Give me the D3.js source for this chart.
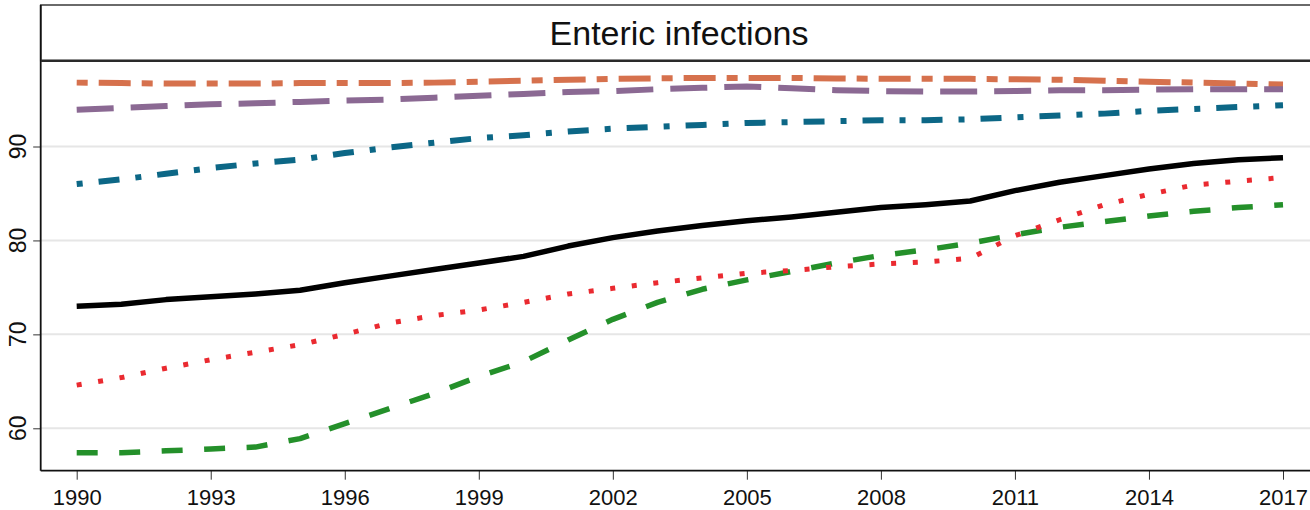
<!DOCTYPE html>
<html>
<head>
<meta charset="utf-8">
<script src="https://cdn.jsdelivr.net/npm/d3@7"></script>
<style>
  html, body { margin: 0; padding: 0; background: #fff; }
  svg { display: block; font-family: "Liberation Sans", Arial, sans-serif; }
</style>
</head>
<body>
<svg id="chart" width="1310" height="510"></svg>
<script>
// ---- data ----
const title = "Enteric infections";
const years = d3.range(1990, 2018);
const xTickLabels = [1990, 1993, 1996, 1999, 2002, 2005, 2008, 2011, 2014, 2017];
const yTickLabels = [60, 70, 80, 90];

const orangeSeries = [96.8, 96.75, 96.7, 96.7, 96.7, 96.75, 96.75, 96.75, 96.8, 96.9, 97.0, 97.1, 97.2, 97.25, 97.3, 97.3, 97.3, 97.25, 97.2, 97.2, 97.2, 97.15, 97.1, 97.0, 96.9, 96.8, 96.7, 96.6];
const purpleSeries = [93.9, 94.1, 94.3, 94.5, 94.6, 94.75, 94.9, 95.0, 95.2, 95.4, 95.6, 95.8, 95.9, 96.1, 96.25, 96.4, 96.2, 96.0, 95.9, 95.85, 95.85, 95.9, 96.0, 96.0, 96.05, 96.1, 96.1, 96.1];
const tealSeries = [86.0, 86.5, 87.1, 87.7, 88.2, 88.6, 89.3, 89.9, 90.4, 90.9, 91.2, 91.6, 91.9, 92.1, 92.3, 92.5, 92.6, 92.7, 92.8, 92.8, 92.9, 93.1, 93.3, 93.5, 93.8, 94.0, 94.2, 94.4];
const blackSeries = [73.0, 73.2, 73.7, 74.0, 74.3, 74.7, 75.5, 76.2, 76.9, 77.6, 78.3, 79.4, 80.3, 81.0, 81.6, 82.1, 82.5, 83.0, 83.5, 83.8, 84.2, 85.3, 86.2, 86.9, 87.6, 88.2, 88.6, 88.8];
const redSeries = [64.6, 65.4, 66.4, 67.3, 68.1, 68.9, 70.0, 71.2, 72.0, 72.6, 73.4, 74.3, 74.9, 75.5, 76.0, 76.5, 76.8, 77.2, 77.5, 77.7, 78.1, 80.5, 82.2, 83.8, 84.9, 85.9, 86.3, 86.7];
const greenSeries = [57.4, 57.4, 57.6, 57.8, 58.0, 58.9, 60.5, 62.1, 63.7, 65.5, 67.1, 69.4, 71.6, 73.4, 74.8, 75.8, 76.7, 77.6, 78.4, 79.0, 79.7, 80.6, 81.4, 82.0, 82.6, 83.1, 83.5, 83.8];

(function () {
const seriesList = [
  { values: orangeSeries, color: "#d6714d", dash: "11,11,32,11", width: 6 },
  { values: purpleSeries, color: "#8b6993", dash: "37,17", width: 6 },
  { values: tealSeries, color: "#0c6786", dash: "6,16,21,16", width: 6 },
  { values: greenSeries, color: "#24902a", dash: "21,21.5", width: 5.5 },
  { values: redSeries, color: "#ea2a30", dash: "5,16.7", width: 5 },
  { values: blackSeries, color: "#000000", dash: null, width: 5.5 }
];

// ---- layout ----
const svg = d3.select("#chart");
const mLeft = 40.7, mTop = 60.7, mBottom = 470.7, mRight = 1312;

const x = d3.scaleLinear().domain([1990, 2017]).range([76.7, 1283]);
const y = d3.scaleLinear().domain([60, 90]).range([428.3, 146.5]);

// title box
svg.append("rect")
  .attr("x", mLeft).attr("y", 5)
  .attr("width", mRight - mLeft).attr("height", mTop - 5)
  .attr("fill", "#fff").attr("stroke", "#3a3a3a").attr("stroke-width", 1.5);
svg.append("text")
  .attr("x", 679).attr("y", 45)
  .attr("text-anchor", "middle")
  .attr("font-size", 34)
  .attr("fill", "#111")
  .text(title);

// grid lines
svg.append("g").selectAll("line").data(yTickLabels).join("line")
  .attr("x1", mLeft).attr("x2", mRight)
  .attr("y1", d => y(d)).attr("y2", d => y(d))
  .attr("stroke", "#e6e6e6").attr("stroke-width", 2);

// y axis
const yAxis = d3.axisLeft(y).tickValues(yTickLabels).tickSize(7.5).tickPadding(0).tickFormat(d3.format("d"));
const gy = svg.append("g").attr("transform", `translate(${mLeft},0)`).call(yAxis);
gy.select(".domain").remove();
gy.selectAll(".tick line").attr("stroke", "#333").attr("stroke-width", 1);
gy.selectAll(".tick text").remove();
svg.append("g").selectAll("text").data(yTickLabels).join("text")
  .attr("transform", d => `translate(25.5,${y(d)}) rotate(-90)`)
  .attr("text-anchor", "middle")
  .attr("font-size", 23)
  .attr("fill", "#111")
  .text(d => d);

// x axis
const xAxis = d3.axisBottom(x).tickValues(xTickLabels).tickSize(9).tickPadding(0).tickFormat(d3.format("d"));
const gx = svg.append("g").attr("transform", `translate(0,${mBottom})`).call(xAxis);
gx.select(".domain").remove();
gx.selectAll(".tick line").attr("stroke", "#333").attr("stroke-width", 1);
gx.selectAll(".tick text").attr("font-size", 22).attr("fill", "#111")
  .attr("font-family", "Liberation Sans, Arial, sans-serif")
  .attr("dy", null).attr("y", 34);

// plot frame lines
svg.append("line").attr("x1", mLeft).attr("x2", mLeft).attr("y1", 5).attr("y2", mBottom)
  .attr("stroke", "#111").attr("stroke-width", 1.8);
svg.append("line").attr("x1", mLeft).attr("x2", mRight).attr("y1", mBottom).attr("y2", mBottom)
  .attr("stroke", "#111").attr("stroke-width", 1.8);
svg.append("line").attr("x1", mLeft).attr("x2", mRight).attr("y1", mTop).attr("y2", mTop)
  .attr("stroke", "#2a2a2a").attr("stroke-width", 2.5);

// series
const line = d3.line().x((d, i) => x(years[i])).y(d => y(d)).curve(d3.curveLinear);
svg.append("g").selectAll("path").data(seriesList).join("path")
  .attr("d", s => line(s.values))
  .attr("fill", "none")
  .attr("stroke", s => s.color)
  .attr("stroke-width", s => s.width)
  .attr("stroke-dasharray", s => s.dash)
  .attr("stroke-linejoin", "round")
  .attr("stroke-linecap", "butt");
})();
</script>
</body>
</html>
